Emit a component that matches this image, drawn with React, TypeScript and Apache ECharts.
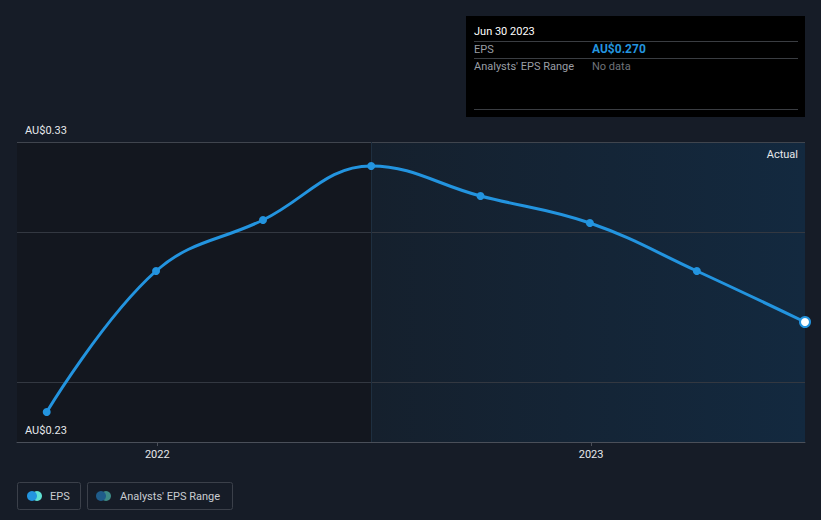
import React, { useEffect, useRef } from "react";
import * as echarts from "echarts";

const dates = ["2021-09-30", "2021-12-31", "2022-03-31", "2022-06-30", "2022-09-30", "2022-12-31", "2023-03-31", "2023-06-30"];
const eps = [0.240, 0.287, 0.304, 0.322, 0.312, 0.303, 0.287, 0.270];
const yTickLabels = [0.23, 0.33];
const gridValues = [0.25, 0.30, 0.33];
const xTickLabels = ["2022-01-01", "2023-01-01"];
const xMin = "2021-09-05";
const xMax = "2023-06-30";
const actualStart = "2022-06-30";

const BG = "#161c27";
const BLUE = "#2394df";

export default function App() {
  const ref = useRef<HTMLDivElement>(null);
  useEffect(() => {
    const chart = echarts.init(ref.current!, undefined, { renderer: "svg" });
    const t = (d: string) => new Date(d + "T00:00:00Z").getTime();
    const data = dates.map((d, i) => {
      if (i === dates.length - 1) {
        return {
          value: [t(d), eps[i]],
          symbolSize: 10,
          itemStyle: { color: "#ffffff", borderColor: BLUE, borderWidth: 2 },
        };
      }
      return { value: [t(d), eps[i]] };
    });
    const font = "Roboto, 'Noto Sans', sans-serif";
    chart.setOption({
      animation: false,
      backgroundColor: BG,
      grid: { left: 17, right: 16, top: 142, bottom: 78 },
      xAxis: {
        type: "value",
        min: t(xMin),
        max: t(xMax),
        z: 10,
        axisLine: { show: true, lineStyle: { color: "#4a4f59", width: 1 } },
        axisTick: { show: true, customValues: xTickLabels.map(t), length: 4, lineStyle: { color: "#4a4f59" } },
        axisLabel: {
          customValues: xTickLabels.map(t),
          formatter: (v: number) => String(new Date(v).getUTCFullYear()),
          color: "#e6e8eb",
          fontSize: 11,
          fontFamily: font,
          margin: 7,
        },
        splitLine: { show: false },
      },
      yAxis: {
        type: "value",
        min: 0.23,
        max: 0.33,
        z: 10,
        axisLine: { show: false },
        axisTick: { show: false },
        splitLine: { show: false },
        axisLabel: {
          customValues: yTickLabels,
          showMinLabel: true,
          showMaxLabel: true,
          hideOverlap: false,
          inside: true,
          margin: 8,
          verticalAlign: "bottom",
          padding: [0, 0, 6, 0],
          color: "#e6e8eb",
          fontSize: 11,
          fontFamily: font,
          formatter: (v: number) => "AU$" + v.toFixed(2),
        },
      },
      series: [
        {
          type: "line",
          data,
          smooth: 0.4,
          symbol: "circle",
          symbolSize: 8,
          showAllSymbol: true,
          clip: false,
          lineStyle: { color: BLUE, width: 3 },
          itemStyle: { color: BLUE },
          z: 5,
          markArea: {
            silent: true,
            data: [
              [
                { xAxis: t(xMin), itemStyle: { color: "#13171f" } },
                { xAxis: t(actualStart) },
              ],
              [
                {
                  xAxis: t(actualStart),
                  name: "Actual",
                  itemStyle: {
                    color: new echarts.graphic.LinearGradient(0, 0, 1, 0, [
                      { offset: 0, color: "#15202d" },
                      { offset: 1, color: "#13293f" },
                    ]),
                  },
                  label: {
                    show: true,
                    position: "insideTopRight",
                    distance: 7,
                    color: "#e6e8eb",
                    fontSize: 11,
                    fontFamily: font,
                    offset: [0, 0],
                  },
                },
                { xAxis: t(xMax) },
              ],
            ],
          },
          markLine: {
            silent: true,
            symbol: "none",
            label: { show: false },
            data: [
              ...gridValues.map((v) => ({
                yAxis: v,
                lineStyle: { color: v === 0.33 ? "#40454e" : "#333841", width: 1, type: "solid" },
              })),
              { xAxis: t(actualStart), lineStyle: { color: "#1e2f40", width: 1, type: "solid" } },
            ],
          },
        },
      ],
      graphic: [
        {
          type: "group",
          x: 466,
          y: 16,
          children: [
            { type: "rect", shape: { x: 0, y: 0, width: 339, height: 101 }, style: { fill: "#000000" } },
            { type: "text", x: 8, y: 15, style: { text: "Jun 30 2023", fill: "#ffffff", font: `11px ${font}`, verticalAlign: "middle" } },
            { type: "line", shape: { x1: 8, y1: 25.5, x2: 332, y2: 25.5 }, style: { stroke: "#3a3d42", lineWidth: 1 } },
            { type: "text", x: 8, y: 33, style: { text: "EPS", fill: "#9a9ea5", font: `11px ${font}`, verticalAlign: "middle" } },
            { type: "text", x: 126, y: 33, style: { text: "AU$0.270", fill: BLUE, font: `bold 12px ${font}`, verticalAlign: "middle" } },
            { type: "line", shape: { x1: 8, y1: 42.5, x2: 332, y2: 42.5 }, style: { stroke: "#3a3d42", lineWidth: 1 } },
            { type: "text", x: 8, y: 50, style: { text: "Analysts' EPS Range", fill: "#9a9ea5", font: `11px ${font}`, verticalAlign: "middle" } },
            { type: "text", x: 126, y: 50, style: { text: "No data", fill: "#6f737a", font: `11px ${font}`, verticalAlign: "middle" } },
            { type: "line", shape: { x1: 8, y1: 93.5, x2: 332, y2: 93.5 }, style: { stroke: "#3a3d42", lineWidth: 1 } },
          ],
        },
        {
          type: "group",
          x: 17,
          y: 482,
          children: [
            { type: "rect", shape: { x: 0.5, y: 0.5, width: 63, height: 27, r: 2 }, style: { fill: "none", stroke: "#3b404a", lineWidth: 1 } },
            { type: "circle", shape: { cx: 20, cy: 14, r: 5 }, style: { fill: "#5fe0d2" } },
            { type: "circle", shape: { cx: 15, cy: 14, r: 5 }, style: { fill: BLUE } },
            { type: "text", x: 33, y: 14, style: { text: "EPS", fill: "#c9ccd1", font: `11px ${font}`, verticalAlign: "middle" } },
            { type: "rect", shape: { x: 70.5, y: 0.5, width: 145, height: 27, r: 2 }, style: { fill: "none", stroke: "#3b404a", lineWidth: 1 } },
            { type: "circle", shape: { cx: 89, cy: 14, r: 5 }, style: { fill: "#3d8a86" } },
            { type: "circle", shape: { cx: 84, cy: 14, r: 5 }, style: { fill: "#1f5c8a" } },
            { type: "text", x: 103, y: 14, style: { text: "Analysts' EPS Range", fill: "#c9ccd1", font: `11px ${font}`, verticalAlign: "middle" } },
          ],
        },
      ],
    });
    return () => chart.dispose();
  }, []);
  return <div ref={ref} style={{ position: "fixed", left: 0, top: 0, width: 821, height: 520 }} />;
}
